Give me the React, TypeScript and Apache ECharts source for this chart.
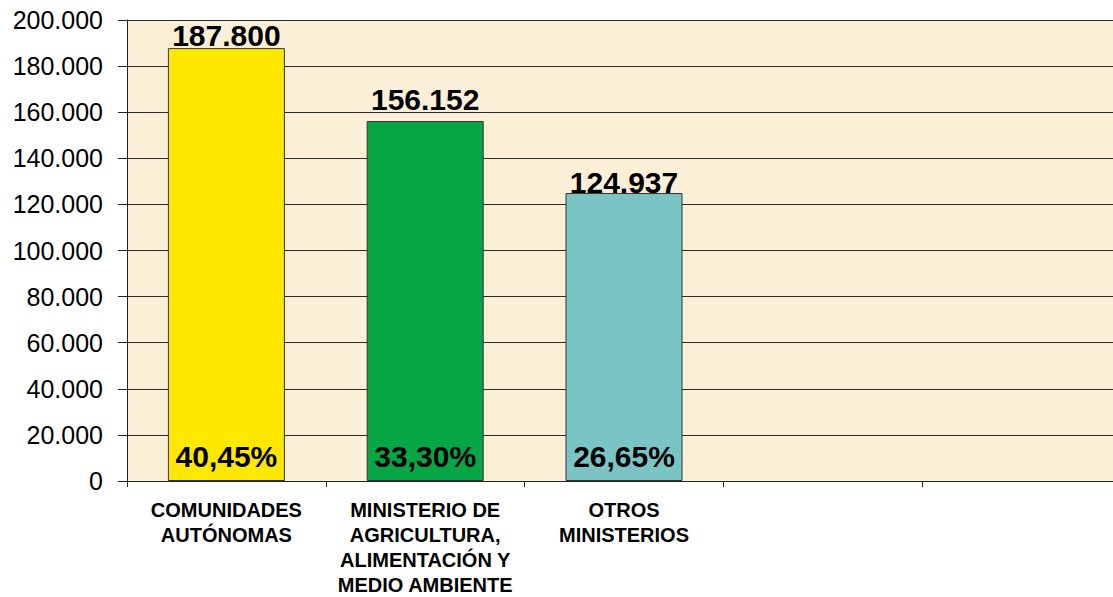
import React, { useEffect, useRef } from "react";
import * as echarts from "echarts";

const categories = [
  "COMUNIDADES\nAUTÓNOMAS",
  "MINISTERIO DE\nAGRICULTURA,\nALIMENTACIÓN Y\nMEDIO AMBIENTE",
  "OTROS\nMINISTERIOS",
  "",
  "",
];
const values = [187800, 156152, 124937];
const percents = ["40,45%", "33,30%", "26,65%"];
const barColors = ["#FFE800", "#07A645", "#7BC4C6"];
const labelOffsets = [-1, 8, -3];

const fmt = (v: number) => String(Math.round(v)).replace(/\B(?=(\d{3})+(?!\d))/g, ".");

export default function App() {
  const ref = useRef<HTMLDivElement>(null);
  useEffect(() => {
    if (!ref.current) return;
    const chart = echarts.init(ref.current, undefined, { renderer: "svg" });
    const font = "'Liberation Sans', Arial, sans-serif";
    const mainData = categories.map((_, i) =>
      i < values.length
        ? {
            value: values[i],
            itemStyle: { color: barColors[i], borderColor: "#333", borderWidth: 1 },
            label: { distance: labelOffsets[i] },
          }
        : "-"
    );
    const pctData = categories.map((_, i) => (i < values.length ? values[i] : "-"));
    chart.setOption({
      animation: false,
      backgroundColor: "#ffffff",
      textStyle: { fontFamily: font },
      grid: {
        left: 127,
        top: 20,
        right: 0,
        bottom: 116,
        containLabel: false,
        show: true,
        backgroundColor: "#FCEFD8",
        borderWidth: 0,
      },
      xAxis: {
        type: "category",
        data: categories,
        boundaryGap: true,
        axisLine: { show: true, lineStyle: { color: "#222", width: 1 } },
        axisTick: { show: true, length: 6, alignWithLabel: false, lineStyle: { color: "#222" } },
        axisLabel: {
          interval: 0,
          margin: 16,
          color: "#000",
          fontFamily: font,
          fontSize: 20,
          fontWeight: "bold",
          lineHeight: 25,
          align: "center",
        },
      },
      yAxis: {
        type: "value",
        min: 0,
        max: 200000,
        interval: 20000,
        axisLine: { show: true, lineStyle: { color: "#222", width: 1 } },
        axisTick: { show: true, length: 9, lineStyle: { color: "#222" } },
        splitLine: { show: true, lineStyle: { color: "#2a2a2a", width: 1 } },
        axisLabel: {
          margin: 24,
          color: "#000",
          fontFamily: font,
          fontSize: 25,
          padding: [6, 0, 0, 0],
          formatter: (v: number) => fmt(v),
        },
      },
      series: [
        {
          type: "bar",
          data: mainData,
          barWidth: 117,
          barGap: "-100%",
          label: {
            show: true,
            position: "top",
            distance: -1,
            color: "#000",
            fontFamily: font,
            fontSize: 30,
            fontWeight: "bold",
            lineHeight: 28,
            formatter: (p: any) => fmt(p.value),
          },
        },
        {
          type: "bar",
          data: pctData,
          barWidth: 117,
          barGap: "-100%",
          itemStyle: { color: "rgba(0,0,0,0)" },
          silent: true,
          label: {
            show: true,
            position: "insideBottom",
            distance: 10,
            color: "#000",
            fontFamily: font,
            fontSize: 30,
            fontWeight: "bold",
            lineHeight: 29,
            formatter: (p: any) => percents[p.dataIndex] ?? "",
          },
        },
      ],
    });
    return () => chart.dispose();
  }, []);
  return (
    <div style={{ position: "fixed", left: 0, top: 0, width: 1113, height: 597, overflow: "hidden" }}>
      <div ref={ref} style={{ width: 1121, height: 597 }} />
    </div>
  );
}
